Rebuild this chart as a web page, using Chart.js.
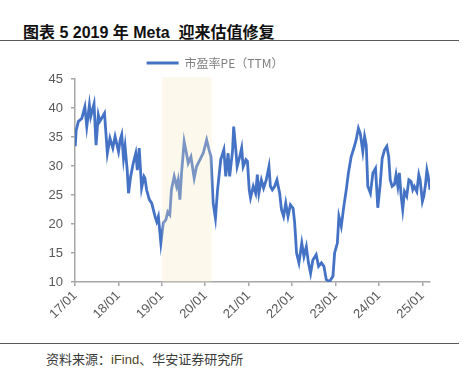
<!DOCTYPE html>
<html>
<head>
<meta charset="utf-8">
<script src="https://cdn.jsdelivr.net/npm/chart.js@4.4.1/dist/chart.umd.min.js"></script>
<style>
    body { margin: 0; background: #fff; }
    #page { position: relative; width: 464px; height: 377px; overflow: hidden; }
    #title {
        position: absolute; left: 23px; top: 19px; line-height: 20px;
        font: bold 16px "Liberation Sans", "Noto Sans CJK SC", sans-serif; color: #111;
        white-space: pre;
    }
    .rule { position: absolute; left: 0; width: 459px; height: 0; border-top: 1.5px solid #5a5a5a; }
    #chart-box { position: absolute; left: 0; top: 45px; width: 464px; height: 295px; }
    #source {
        position: absolute; left: 46px; top: 349px; line-height: 16px;
        font: 13px "Noto Sans CJK SC", sans-serif; color: #3a3a3a;
    }
    #source .brand { font-family: "Liberation Sans", sans-serif; color: #4f4424; }
</style>
</head>
<body>
<div id="page">
    <div id="title">图表 5 2019 年 Meta  迎来估值修复</div>
    <div class="rule" style="top: 40px;"></div>
    <div id="chart-box"><canvas id="chart-pe"></canvas></div>
    <div class="rule" style="top: 342.5px;"></div>
    <div id="source">资料来源：<span class="brand">iFind</span>、华安证券研究所</div>
</div>
<script>
// Meta 市盈率PE(TTM) - fechas y valores
const dates = [
    '2017-01-03', '2017-01-11', '2017-01-30', '2017-02-27', '2017-03-25', '2017-04-10', '2017-05-02', '2017-05-13',
    '2017-06-10', '2017-06-27', '2017-07-16', '2017-07-29', '2017-09-06', '2017-09-30', '2017-10-22', '2017-11-15',
    '2017-12-04', '2018-01-02', '2018-01-16', '2018-01-29', '2018-02-13', '2018-02-26', '2018-03-16', '2018-03-27',
    '2018-04-14', '2018-05-06', '2018-05-27', '2018-06-09', '2018-06-25', '2018-07-15', '2018-08-04', '2018-08-12',
    '2018-08-26', '2018-09-18', '2018-10-08', '2018-11-05', '2018-11-19', '2018-12-03', '2018-12-24', '2019-01-14',
    '2019-02-04', '2019-02-20', '2019-03-09', '2019-03-23', '2019-04-15', '2019-05-05', '2019-05-18', '2019-06-02',
    '2019-06-16', '2019-07-08', '2019-07-27', '2019-08-11', '2019-09-03', '2019-09-30', '2019-10-20', '2019-11-18',
    '2019-12-15', '2020-01-13', '2020-02-02', '2020-02-18', '2020-03-08', '2020-03-27', '2020-04-14', '2020-05-11',
    '2020-06-06', '2020-06-22', '2020-07-12', '2020-07-25', '2020-08-18', '2020-08-28', '2020-09-15', '2020-09-26',
    '2020-10-18', '2020-11-03', '2020-11-16', '2020-12-09', '2020-12-22', '2021-01-06', '2021-01-17', '2021-02-09',
    '2021-03-01', '2021-03-15', '2021-03-28', '2021-04-18', '2021-05-07', '2021-05-29', '2021-06-21', '2021-07-03',
    '2021-07-19', '2021-08-08', '2021-08-27', '2021-09-19', '2021-10-04', '2021-10-22', '2021-11-09', '2021-11-28',
    '2021-12-18', '2022-01-10', '2022-01-23', '2022-02-08', '2022-02-28', '2022-03-24', '2022-04-11', '2022-05-01',
    '2022-05-19', '2022-06-06', '2022-06-25', '2022-07-23', '2022-08-12', '2022-09-05', '2022-09-26', '2022-10-16',
    '2022-11-13', '2022-12-11', '2022-12-25', '2023-01-17', '2023-01-30', '2023-02-19', '2023-03-12', '2023-04-02',
    '2023-04-20', '2023-05-13', '2023-06-05', '2023-06-24', '2023-07-13', '2023-07-29', '2023-08-19', '2023-09-03',
    '2023-09-17', '2023-09-30', '2023-10-22', '2023-11-12', '2023-12-04', '2023-12-23', '2024-01-13', '2024-01-29',
    '2024-02-18', '2024-03-08', '2024-03-24', '2024-04-06', '2024-04-22', '2024-05-11', '2024-05-25', '2024-06-09',
    '2024-06-22', '2024-07-07', '2024-07-20', '2024-08-04', '2024-08-23', '2024-09-10', '2024-09-29', '2024-10-13',
    '2024-10-26', '2024-11-16', '2024-12-03', '2024-12-14', '2025-01-02', '2025-01-14', '2025-01-28', '2025-02-09',
    '2025-02-20', '2025-03-07'
];

const peValues = [
    33.4, 36.2, 37.7, 38.2, 40.2, 36.8, 40.5, 38.5,
    40.7, 33.6, 38.8, 37.7, 39.1, 32.2, 34.8, 33.1,
    35.1, 32.5, 34.5, 35.4, 31.3, 33.4, 29.3, 25.3,
    28.2, 30.5, 32.2, 29.3, 33.1, 26.2, 28.2, 27.9,
    25.9, 24.2, 23.6, 21.3, 20.4, 21.3, 16.7, 20.2,
    20.7, 22.1, 21.6, 25.9, 28.2, 26.5, 27.6, 24.2,
    28.8, 34.2, 32.2, 30.5, 31.6, 27.9, 29.9, 31.1,
    32.2, 34.5, 32.8, 31.6, 23.6, 21.0, 25.9, 31.1,
    32.8, 28.2, 32.2, 28.2, 32.5, 36.8, 32.8, 29.9,
    31.6, 33.1, 29.9, 31.1, 30.8, 25.9, 24.5, 26.5,
    25.3, 28.5, 25.3, 27.6, 26.2, 27.6, 29.9, 26.5,
    25.9, 26.5, 27.6, 25.3, 22.5, 21.3, 23.6, 21.3,
    23.3, 22.7, 20.2, 15.0, 13.3, 16.7, 14.4, 16.1,
    13.3, 11.5, 13.8, 14.7, 12.7, 13.3, 12.7, 10.4,
    10.1, 11.0, 15.0, 16.7, 21.3, 19.6, 23.0, 25.9,
    28.8, 31.6, 33.1, 34.5, 36.5, 35.6, 32.5, 35.1,
    33.6, 26.5, 25.3, 28.8, 29.6, 22.8, 27.0, 31.3,
    32.8, 33.4, 31.6, 27.6, 26.5, 26.8, 28.5, 26.5,
    28.8, 24.8, 22.5, 25.6, 24.8, 27.6, 27.3, 25.9,
    26.5, 25.6, 28.5, 27.6, 23.9, 24.8, 26.8, 29.3,
    28.2, 25.9
];

// Periodo sombreado (2019 - inicio 2020)
const shadeRange = ['2019-01-05', '2020-02-24'];

const yTicks = [10, 15, 20, 25, 30, 35, 40, 45];
const xStartYear = 2017;

// Convertir fecha a año decimal
function toYear(str) {
    const p = str.split('-').map(Number);
    const start = Date.UTC(p[0], 0, 1);
    const end = Date.UTC(p[0] + 1, 0, 1);
    return p[0] + (Date.UTC(p[0], p[1] - 1, p[2]) - start) / (end - start);
}

document.addEventListener('DOMContentLoaded', function() {
    initPeChart();
});

function initPeChart() {
    const ctx = document.getElementById('chart-pe');
    if (!ctx) return;

    const points = dates.map((d, i) => ({ x: toYear(d), y: peValues[i] }));
    const axisColor = '#a6a6a6';
    const tickFont = { family: '"Liberation Sans", Arial, sans-serif', size: 13 };

    // Banda sombreada sobre la línea
    const shadePlugin = {
        id: 'shade',
        afterDatasetsDraw(chart) {
            const x = chart.scales.x;
            const area = chart.chartArea;
            const x0 = x.getPixelForValue(toYear(shadeRange[0]));
            const x1 = x.getPixelForValue(toYear(shadeRange[1]));
            const c = chart.ctx;
            c.save();
            c.fillStyle = 'rgba(248, 232, 192, 0.3)';
            c.fillRect(x0, area.top - 2, x1 - x0, area.bottom - area.top + 2);
            c.restore();
        }
    };

    new Chart(ctx, {
        type: 'line',
        data: {
            datasets: [{
                label: '市盈率PE（TTM）',
                data: points,
                borderColor: '#4472c4',
                backgroundColor: '#4472c4',
                borderWidth: 2.8,
                pointRadius: 0,
                tension: 0,
                fill: false
            }]
        },
        options: {
            responsive: true,
            maintainAspectRatio: false,
            animation: false,
            layout: {
                padding: { top: 2, right: 34, bottom: 0, left: 0 }
            },
            plugins: {
                legend: {
                    display: true,
                    position: 'top',
                    labels: {
                        usePointStyle: true,
                        pointStyle: 'line',
                        pointStyleWidth: 32,
                        padding: 10,
                        color: '#7f7f7f',
                        font: { family: '"Noto Sans CJK SC", sans-serif', size: 12 }
                    }
                },
                tooltip: { enabled: false }
            },
            scales: {
                x: {
                    type: 'linear',
                    min: xStartYear,
                    max: points[points.length - 1].x,
                    afterFit: function(scale) { scale.height = 58; },
                    grid: { drawOnChartArea: false, drawTicks: true, tickLength: 4, color: axisColor, lineWidth: 1.5 },
                    border: { color: axisColor, width: 1.5 },
                    ticks: {
                        stepSize: 1,
                        includeBounds: false,
                        autoSkip: false,
                        maxRotation: 45,
                        minRotation: 45,
                        padding: 2,
                        color: '#595959',
                        font: tickFont,
                        callback: function(value) {
                            return String(value).slice(2) + '/01';
                        }
                    }
                },
                y: {
                    min: yTicks[0],
                    max: yTicks[yTicks.length - 1],
                    afterFit: function(scale) { scale.width = 75; },
                    afterBuildTicks: function(scale) {
                        scale.ticks = yTicks.map(v => ({ value: v }));
                    },
                    grid: { drawOnChartArea: false, drawTicks: true, tickLength: 4, color: axisColor, lineWidth: 1.5 },
                    border: { color: axisColor, width: 1.5 },
                    ticks: {
                        padding: 8,
                        color: '#595959',
                        font: tickFont
                    }
                }
            }
        },
        plugins: [shadePlugin]
    });
}
</script>
</body>
</html>
